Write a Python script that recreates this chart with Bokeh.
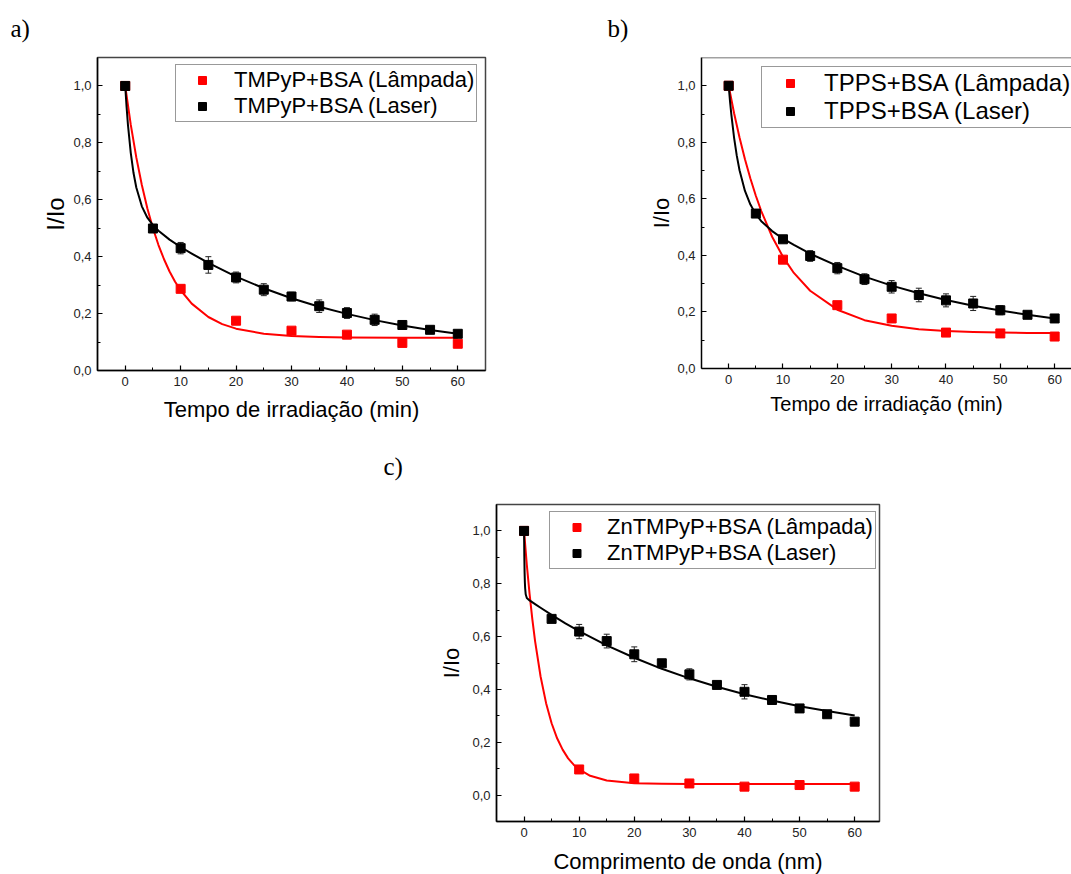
from bokeh.plotting import figure
from bokeh.models import (ColumnDataSource, Whisker, TeeHead, Legend, LegendItem, Title, Span,
                          FixedTicker, CustomJSTickFormatter, Range1d, Spacer)
from bokeh.layouts import row, column
from bokeh.embed import file_html
from bokeh.resources import INLINE

FONT = "Liberation Sans"
SERIF = "Liberation Serif"
RED = "#ff0000"
BLACK = "#000000"

# ---------------- data ----------------
X_TICKS = [0, 10, 20, 30, 40, 50, 60]
X_MINOR = [5, 15, 25, 35, 45, 55]
Y_TICKS = [0.0, 0.2, 0.4, 0.6, 0.8, 1.0]
Y_MINOR = [0.1, 0.3, 0.5, 0.7, 0.9]

# panel a) TMPyP
a_lamp_x = [0, 10, 20, 30, 40, 50, 60]
a_lamp_y = [1.0, 0.287, 0.175, 0.140, 0.126, 0.097, 0.094]
a_laser_x = [0, 5, 10, 15, 20, 25, 30, 35, 40, 45, 50, 55, 60]
a_laser_y = [1.0, 0.499, 0.430, 0.371, 0.327, 0.284, 0.260, 0.226, 0.202, 0.178, 0.160, 0.143, 0.129]
a_laser_err = [0.0, 0.008, 0.020, 0.029, 0.019, 0.021, 0.015, 0.022, 0.019, 0.020, 0.013, 0.010, 0.008]
a_lamp_fit_x = [0, 1, 2, 3, 4, 5, 6, 7, 8, 9, 10, 12, 15, 17.5, 20, 25, 30, 35, 40, 50, 60]
a_lamp_fit_y = [1.0, 0.864, 0.749, 0.652, 0.569, 0.500, 0.441, 0.391, 0.348, 0.312, 0.282, 0.235,
                0.188, 0.163, 0.147, 0.129, 0.121, 0.118, 0.116, 0.115, 0.115]
a_laser_fit_x = [0, 0.25, 0.5, 1, 1.5, 2, 3, 4, 5, 6, 8, 10, 12, 15, 20, 25, 30, 35, 40, 45, 50, 55, 60]
a_laser_fit_y = [1.0, 0.925, 0.862, 0.765, 0.694, 0.643, 0.577, 0.537, 0.511, 0.491, 0.460, 0.434,
                 0.411, 0.378, 0.330, 0.289, 0.254, 0.224, 0.199, 0.177, 0.158, 0.142, 0.129]

# panel b) TPPS
b_lamp_x = [0, 10, 20, 30, 40, 50, 60]
b_lamp_y = [1.0, 0.385, 0.224, 0.177, 0.127, 0.124, 0.113]
b_laser_x = [0, 5, 10, 15, 20, 25, 30, 35, 40, 45, 50, 55, 60]
b_laser_y = [1.0, 0.548, 0.457, 0.398, 0.355, 0.316, 0.289, 0.260, 0.241, 0.230, 0.206, 0.190, 0.177]
b_laser_err = [0.0, 0.012, 0.010, 0.019, 0.020, 0.019, 0.022, 0.024, 0.023, 0.025, 0.016, 0.010, 0.010]
b_lamp_fit_x = [0, 1, 2, 3, 4, 5, 6, 8, 10, 12, 15, 20, 25, 30, 35, 40, 45, 50, 55, 60]
b_lamp_fit_y = [1.0, 0.903, 0.817, 0.740, 0.672, 0.611, 0.557, 0.466, 0.395, 0.338, 0.275, 0.208,
                0.171, 0.151, 0.139, 0.133, 0.129, 0.127, 0.126, 0.126]
b_laser_fit_x = [0, 0.25, 0.5, 1, 1.5, 2, 3, 4, 5, 6, 8, 10, 12, 15, 20, 25, 30, 35, 40, 45, 50, 55, 60]
b_laser_fit_y = [1.0, 0.945, 0.897, 0.816, 0.752, 0.701, 0.628, 0.580, 0.546, 0.521, 0.486, 0.459,
                 0.437, 0.406, 0.363, 0.325, 0.293, 0.266, 0.242, 0.222, 0.205, 0.190, 0.177]

# panel c) ZnTMPyP
c_lamp_x = [0, 10, 20, 30, 40, 50, 60]
c_lamp_y = [1.0, 0.097, 0.063, 0.044, 0.032, 0.038, 0.032]
c_laser_x = [0, 5, 10, 15, 20, 25, 30, 35, 40, 45, 50, 55, 60]
c_laser_y = [1.0, 0.667, 0.619, 0.583, 0.533, 0.499, 0.457, 0.417, 0.391, 0.360, 0.328, 0.306, 0.278]
c_laser_err = [0.0, 0.010, 0.027, 0.026, 0.028, 0.008, 0.021, 0.008, 0.027, 0.008, 0.008, 0.008, 0.014]
c_lamp_fit_x = [0, 0.5, 1, 1.5, 2, 3, 4, 5, 6, 7, 8, 9, 10, 12, 15, 20, 25, 30, 40, 50, 60]
c_lamp_fit_y = [1.0, 0.872, 0.762, 0.666, 0.583, 0.449, 0.348, 0.272, 0.215, 0.172, 0.139, 0.115,
                0.097, 0.073, 0.055, 0.045, 0.043, 0.042, 0.042, 0.042, 0.042]
c_laser_fit_x = [0, 0.05, 0.1, 0.15, 0.2, 0.3, 0.5, 1, 2, 3, 5, 7.5, 10, 15, 20, 25, 30, 35, 40, 45, 50, 55, 60]
c_laser_fit_y = [1.0, 0.902, 0.842, 0.805, 0.783, 0.760, 0.746, 0.737, 0.723, 0.709, 0.682, 0.650,
                 0.621, 0.567, 0.520, 0.478, 0.442, 0.410, 0.382, 0.358, 0.336, 0.318, 0.301]


def make_panel(fw, fh, bl, br, bt, bb, xr, yr,
               lamp_x, lamp_y, laser_x, laser_y, laser_err,
               lamp_fx, lamp_fy, laser_fx, laser_fy,
               leg_labels, leg_loc, leg_font, leg_gw, leg_standoff,
               xlabel, xlab_size, ylab_size, xlab_standoff, ylab_standoff,
               letter, letter_offset, letter_standoff, letter_valign, outline=True):
    p = figure(frame_width=fw, frame_height=fh,
               min_border_left=bl, min_border_right=br, min_border_top=bt, min_border_bottom=bb,
               x_range=Range1d(*xr), y_range=Range1d(*yr),
               output_backend="svg", toolbar_location=None)
    p.grid.visible = False
    p.background_fill_color = "white"
    p.border_fill_color = "white"
    if outline:
        p.outline_line_color = "#444444"
        p.outline_line_width = 1.5
    else:
        p.outline_line_color = None
        p.add_layout(Span(location=yr[1], dimension="width", line_color="#444444", line_width=1.5))

    # fit curves
    p.line(lamp_fx, lamp_fy, line_color=RED, line_width=2, line_join="round")
    p.line(laser_fx, laser_fy, line_color=BLACK, line_width=2, line_join="round")

    # error bars
    src = ColumnDataSource(dict(base=laser_x,
                                upper=[y + e for y, e in zip(laser_y, laser_err)],
                                lower=[y - e for y, e in zip(laser_y, laser_err)]))
    p.add_layout(Whisker(source=src, base="base", upper="upper", lower="lower",
                         line_color="#222222", line_width=1,
                         upper_head=TeeHead(size=6, line_color="#222222", line_width=1),
                         lower_head=TeeHead(size=6, line_color="#222222", line_width=1)))

    r_lamp = p.scatter(lamp_x, lamp_y, marker="square", size=9, fill_color=RED, line_color=RED)
    r_laser = p.scatter(laser_x, laser_y, marker="square", size=9, fill_color=BLACK, line_color=BLACK)

    legend = Legend(items=[LegendItem(label=leg_labels[0], renderers=[r_lamp]),
                           LegendItem(label=leg_labels[1], renderers=[r_laser])],
                    location=leg_loc, margin=0, padding=2, spacing=0,
                    glyph_width=leg_gw, glyph_height=20, label_standoff=leg_standoff,
                    label_text_font=FONT, label_text_font_size=leg_font, label_text_color="black",
                    border_line_color="#333333", border_line_width=1,
                    background_fill_color="white", background_fill_alpha=1.0)
    p.add_layout(legend)

    p.xaxis.ticker = FixedTicker(ticks=X_TICKS, minor_ticks=X_MINOR)
    p.yaxis.ticker = FixedTicker(ticks=Y_TICKS, minor_ticks=Y_MINOR)
    p.yaxis.formatter = CustomJSTickFormatter(code="return tick.toFixed(1).replace('.', ',');")
    p.xaxis.axis_label = xlabel
    p.yaxis.axis_label = "I/Io"
    for ax in (p.xaxis[0], p.yaxis[0]):
        ax.axis_line_color = "black"
        ax.axis_line_width = 1.5
        ax.major_tick_in = 5
        ax.major_tick_out = 0
        ax.minor_tick_in = 3
        ax.minor_tick_out = 0
        ax.major_tick_line_color = "black"
        ax.minor_tick_line_color = "black"
        ax.major_tick_line_width = 1.2
        ax.minor_tick_line_width = 1
        ax.major_label_text_font = FONT
        ax.major_label_text_font_size = "13px"
        ax.major_label_text_color = "#222222"
        ax.major_label_standoff = 6
        ax.axis_label_text_font = FONT
        ax.axis_label_text_font_style = "normal"
        ax.axis_label_text_color = "black"
    p.xaxis.axis_label_text_font_size = xlab_size
    p.yaxis.axis_label_text_font_size = ylab_size
    p.xaxis.axis_label_standoff = xlab_standoff
    p.yaxis.axis_label_standoff = ylab_standoff

    p.add_layout(Title(text=letter, align="left", offset=letter_offset, standoff=letter_standoff,
                       vertical_align=letter_valign,
                       text_font=SERIF, text_font_size="25px", text_font_style="normal",
                       text_color="black"), "above")
    return p


pa = make_panel(388, 313, 97, 115, 57, 58, (-5, 65), (0, 1.1),
                a_lamp_x, a_lamp_y, a_laser_x, a_laser_y, a_laser_err,
                a_lamp_fit_x, a_lamp_fit_y, a_laser_fit_x, a_laser_fit_y,
                ["TMPyP+BSA (Lâmpada)", "TMPyP+BSA (Laser)"], (78, 248), "22px", 48, 8,
                "Tempo de irradiação (min)", "22px", "24px", 8, 1,
                "a)", -87, 27, "top")

pb = make_panel(370, 311, 101, 0, 57, 60, (-5, 63.1), (0, 1.1),
                b_lamp_x, b_lamp_y, b_laser_x, b_laser_y, b_laser_err,
                b_lamp_fit_x, b_lamp_fit_y, b_laser_fit_x, b_laser_fit_y,
                ["TPPS+BSA (Lâmpada)", "TPPS+BSA (Laser)"], (60, 240), "24px", 52, 8,
                "Tempo de irradiação (min)", "20px", "22px", 6, 0,
                "b)", -94, 27, "top", outline=False)

pc = make_panel(383, 317, 116, 21, 76, 53, (-5, 64.5), (-0.1, 1.1),
                c_lamp_x, c_lamp_y, c_laser_x, c_laser_y, c_laser_err,
                c_lamp_fit_x, c_lamp_fit_y, c_laser_fit_x, c_laser_fit_y,
                ["ZnTMPyP+BSA (Lâmpada)", "ZnTMPyP+BSA (Laser)"], (53, 252), "22px", 49, 6,
                "Comprimento de onda (nm)", "22px", "22px", 9, 5,
                "c)", -113, 45, "top")

layout = column(row(pa, pb), row(Spacer(width=380, height=446), pc))

open("out.html", "w").write(file_html(layout, INLINE))
